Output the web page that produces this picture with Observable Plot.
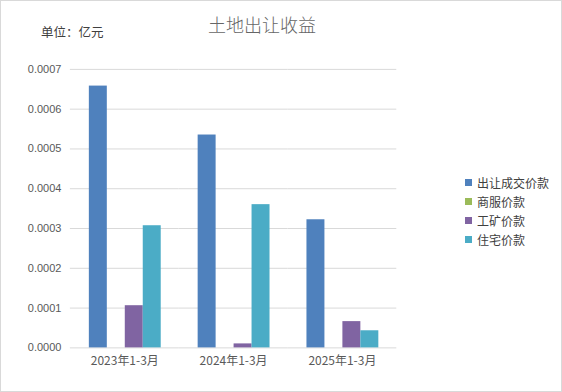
<!DOCTYPE html>
<html>
<head>
<meta charset="utf-8">
<script src="https://cdn.jsdelivr.net/npm/d3@7"></script>
<script src="https://cdn.jsdelivr.net/npm/@observablehq/plot@0.6"></script>
<style>
  html, body { margin: 0; padding: 0; background: #fff; }
  #wrap { position: relative; width: 562px; height: 392px; box-sizing: border-box; border: 1px solid #d9d9d9; font-family: "Noto Sans CJK SC", "Liberation Sans", sans-serif; overflow: hidden; }
  #chart { position: absolute; left: -1px; top: -1px; }
  #title { position: absolute; left: 0; width: 522px; top: 8px; text-align: center; font-size: 18px; font-weight: 300; color: #666666; line-height: 30px; }
  #unit { position: absolute; left: 40px; top: 21px; font-size: 12.5px; color: #404040; line-height: 20px; }
  #legend { position: absolute; left: 464px; top: 172px; font-size: 12px; color: #404040; }
  .row { height: 19px; line-height: 19px; display: flex; align-items: center; white-space: nowrap; }
  .sw { width: 7px; height: 7px; margin-right: 5px; flex: none; }
</style>
</head>
<body>
<div id="wrap">
  <div id="chart"></div>
  <div id="title">土地出让收益</div>
  <div id="unit">单位：亿元</div>
  <div id="legend"></div>
</div>
<script>
const groups = ["2023年1-3月", "2024年1-3月", "2025年1-3月"];
const series = ["出让成交价款", "商服价款", "工矿价款", "住宅价款"];
const chengjiao = [0.000658, 0.000535, 0.000322];
const shangfu = [0, 0, 0];
const gongkuang = [0.000106, 0.000010, 0.000066];
const zhuzhai = [0.000307, 0.00036, 0.000043];
const yTicks = [0, 0.0001, 0.0002, 0.0003, 0.0004, 0.0005, 0.0006, 0.0007];
const colors = ["#4f81bd", "#9bbb59", "#8064a2", "#4bacc6"];

const seriesValues = [chengjiao, shangfu, gongkuang, zhuzhai];
const data = [];
groups.forEach((g, i) => {
  series.forEach((s, j) => {
    data.push({group: g, series: s, value: seriesValues[j][i]});
  });
});

const chart = Plot.plot({
  width: 562,
  height: 392,
  marginLeft: 69,
  marginRight: 165,
  marginTop: 69,
  marginBottom: 44,
  style: {fontFamily: "'Liberation Sans', 'Noto Sans CJK SC', sans-serif", color: "#595959", background: "transparent"},
  fx: {domain: groups, padding: 0, label: null},
  x: {domain: series, paddingInner: 0, paddingOuter: 1, axis: null},
  y: {domain: [0, 0.0007], label: null},
  color: {domain: series, range: colors},
  marks: [
    Plot.ruleY(yTicks, {stroke: "#d9d9d9", strokeWidth: 1}),
    Plot.barY(data, {fx: "group", x: "series", y: "value", fill: "series"}),
    Plot.axisY({ticks: yTicks, tickFormat: d3.format(".4f"), tickSize: 0, tickPadding: 9, fontSize: 11, label: null}),
    Plot.axisFx({anchor: "bottom", tickSize: 0, tickPadding: 9, fontSize: 12, label: null, fontFamily: "'Noto Sans CJK SC', sans-serif"})
  ]
});
document.getElementById("chart").appendChild(chart);

const legend = document.getElementById("legend");
series.forEach((s, i) => {
  const row = document.createElement("div");
  row.className = "row";
  const sw = document.createElement("div");
  sw.className = "sw";
  sw.style.background = colors[i];
  const t = document.createElement("span");
  t.textContent = s;
  row.appendChild(sw);
  row.appendChild(t);
  legend.appendChild(row);
});
</script>
</body>
</html>
